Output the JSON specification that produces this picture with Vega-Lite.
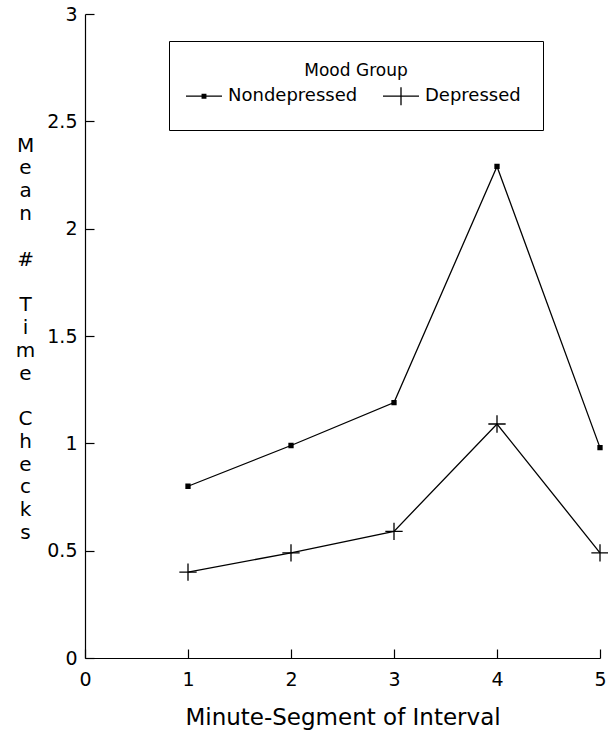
{
  "$schema": "https://vega.github.io/schema/vega-lite/v6.json",
  "width": 515,
  "height": 644,
  "autosize": {"type": "none"},
  "padding": {"left": 85, "top": 14, "right": 8, "bottom": 75},
  "background": "white",
  "config": {
    "view": {"stroke": null},
    "font": "DejaVu Sans",
    "axis": {"grid": false, "domainColor": "black", "tickColor": "black", "labelColor": "black", "titleColor": "black", "domainWidth": 1.2, "tickWidth": 1.2, "labelFont": "DejaVu Sans", "titleFont": "DejaVu Sans", "titleFontWeight": "normal"}
  },
  "data": {
    "values": [
      {"group": "Nondepressed", "segment": 1, "mean": 0.80},
      {"group": "Nondepressed", "segment": 2, "mean": 0.99},
      {"group": "Nondepressed", "segment": 3, "mean": 1.19},
      {"group": "Nondepressed", "segment": 4, "mean": 2.29},
      {"group": "Nondepressed", "segment": 5, "mean": 0.98},
      {"group": "Depressed", "segment": 1, "mean": 0.40},
      {"group": "Depressed", "segment": 2, "mean": 0.49},
      {"group": "Depressed", "segment": 3, "mean": 0.59},
      {"group": "Depressed", "segment": 4, "mean": 1.09},
      {"group": "Depressed", "segment": 5, "mean": 0.49}
    ]
  },
  "encoding": {
    "x": {
      "field": "segment", "type": "quantitative",
      "scale": {"domain": [0, 5], "nice": false},
      "axis": {
        "values": [0, 1, 2, 3, 4, 5], "format": "d",
        "title": "Minute-Segment of Interval",
        "tickSize": -9, "labelPadding": 21, "labelFontSize": 19,
        "labelFlush": false, "labelOverlap": false,
        "titleFontSize": 23, "titleY": 59, "titleBaseline": "middle"
      }
    },
    "y": {
      "field": "mean", "type": "quantitative",
      "scale": {"domain": [0, 3], "nice": false},
      "axis": {
        "values": [0, 0.5, 1, 1.5, 2, 2.5, 3],
        "labelExpr": "'' + datum.value",
        "tickSize": -9, "labelPadding": 17, "labelFontSize": 19,
        "labelFlush": false, "labelOverlap": false,
        "title": ["M", "e", "a", "n", "\u2800", "#", "\u2800", "T", "i", "m", "e", "\u2800", "C", "h", "e", "c", "k", "s"],
        "titleAngle": 0, "titleX": -60, "titleY": 131, "titleAlign": "center", "titleBaseline": "middle",
        "titleLineHeight": 22.8, "titleFontSize": 20
      }
    }
  },
  "layer": [
    {
      "mark": {"type": "line", "strokeWidth": 1.3},
      "encoding": {
        "color": {
          "field": "group", "type": "nominal",
          "scale": {"domain": ["Nondepressed", "Depressed"], "range": ["black", "black"]},
          "legend": {
            "title": "Mood Group",
            "orient": "none", "legendX": 84, "legendY": 27,
            "direction": "horizontal", "columns": 2,
            "strokeColor": "black", "fillColor": "white", "padding": 22,
            "titleAnchor": "middle", "titleAlign": "center", "titleFontSize": 17, "titleFontWeight": "normal", "titleColor": "black", "titlePadding": 5,
            "labelFontSize": 18, "labelColor": "black", "labelOffset": 13, "columnPadding": 22,
            "symbolSize": 400, "symbolOffset": 2, "symbolStrokeWidth": 1.3,
            "encode": {
              "symbols": {
                "update": {
                  "shape": {"signal": "datum.value === 'Nondepressed' ? 'M-1.8,0H1.8M-0.18,-0.18H0.18V0.18H-0.18ZM0,-0.9L0,-0.9M0,0.9L0,0.9' : 'M-1.8,0H1.8M0,-0.9V0.9'"},
                  "fill": {"value": "black"},
                  "stroke": {"value": "black"},
                  "strokeWidth": {"value": 1.3}
                }
              }
            }
          }
        }
      }
    },
    {
      "mark": {"type": "point", "filled": true, "fill": "black", "stroke": "black", "strokeWidth": 1.3, "opacity": 1},
      "encoding": {
        "shape": {"condition": {"test": "datum.group === 'Nondepressed'", "value": "square"}, "value": "M-1,0H1M0,-1V1"},
        "size": {"condition": {"test": "datum.group === 'Nondepressed'", "value": 16}, "value": 300}
      }
    }
  ]
}
